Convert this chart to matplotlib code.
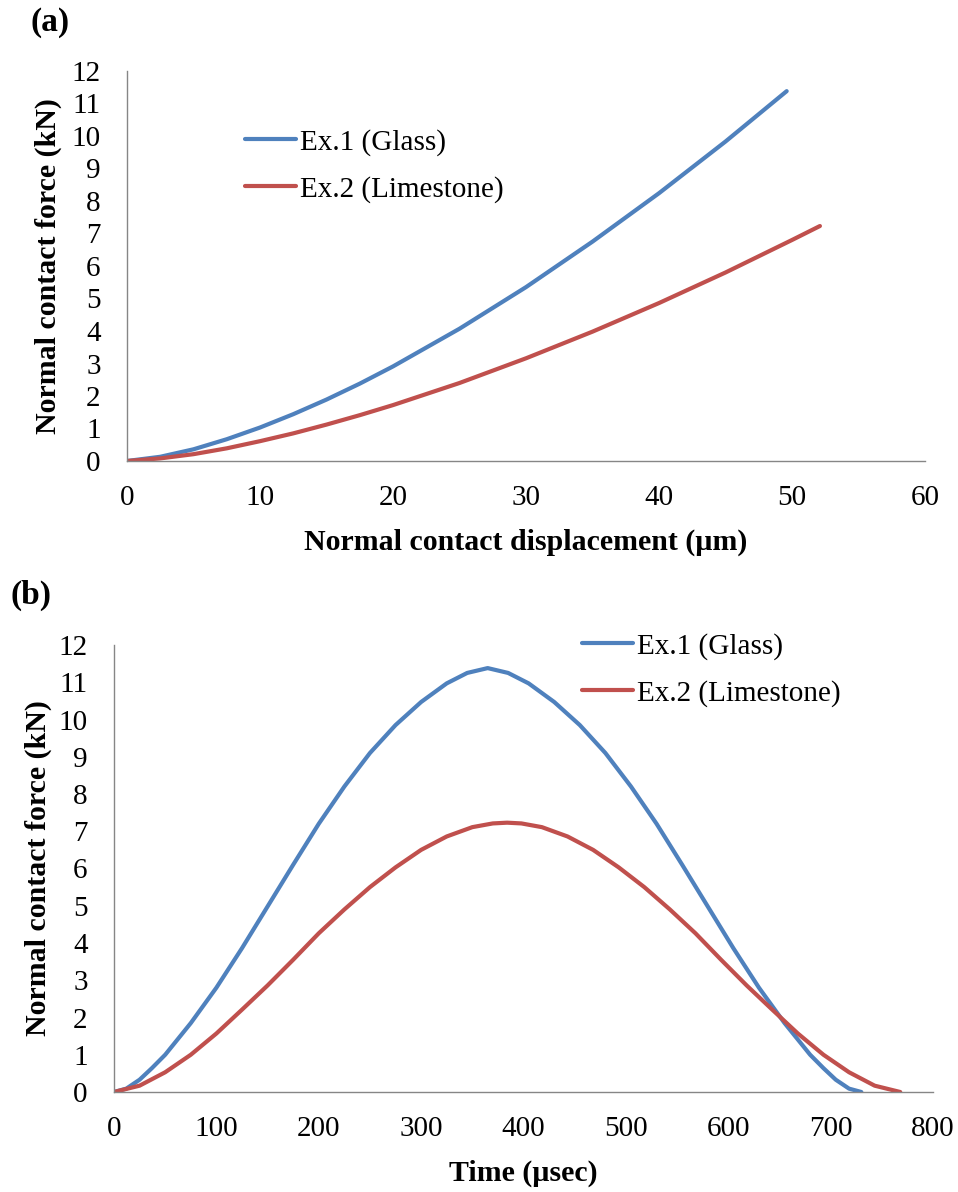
import numpy as np
import matplotlib.pyplot as plt

# (a) force vs displacement
disp_glass = [0, 2.5, 5, 7.5, 10, 12.5, 15, 17.5, 20, 25, 30, 35, 40, 45, 49.6]
force_glass = [0, 0.13, 0.36, 0.67, 1.03, 1.44, 1.89, 2.38, 2.91, 4.07, 5.35, 6.75, 8.24, 9.83, 11.38]
disp_lime = [0, 2.5, 5, 7.5, 10, 12.5, 15, 17.5, 20, 25, 30, 35, 40, 45, 50, 52.1]
force_lime = [0, 0.08, 0.21, 0.39, 0.61, 0.85, 1.12, 1.41, 1.72, 2.40, 3.16, 3.98, 4.86, 5.80, 6.80, 7.23]

# (b) force vs time
time_glass = [0, 12, 25, 37, 50, 75, 100, 125, 150, 175, 200, 225, 250, 275, 300, 325, 345, 365,
              385, 405, 430, 455, 480, 505, 530, 555, 580, 605, 630, 655, 680, 693, 705, 718, 730]
ft_glass = [0, 0.09, 0.33, 0.64, 1.0, 1.85, 2.8, 3.86, 4.98, 6.1, 7.2, 8.2, 9.1, 9.85, 10.47, 10.97, 11.25, 11.38,
            11.25, 10.97, 10.47, 9.85, 9.1, 8.2, 7.2, 6.1, 4.98, 3.86, 2.8, 1.85, 1.0, 0.64, 0.33, 0.09, 0]
time_lime = [0, 25, 50, 75, 100, 125, 150, 175, 200, 225, 250, 275, 300, 325, 350, 370, 384,
             398, 418, 443, 468, 493, 518, 543, 568, 593, 618, 643, 668, 693, 718, 743, 768]
ft_lime = [0, 0.17, 0.53, 1.0, 1.57, 2.21, 2.86, 3.55, 4.26, 4.9, 5.5, 6.03, 6.5, 6.86, 7.11, 7.21, 7.23,
           7.21, 7.11, 6.86, 6.5, 6.03, 5.5, 4.9, 4.26, 3.55, 2.86, 2.21, 1.57, 1.0, 0.53, 0.17, 0]

labels = ['Ex.1 (Glass)', 'Ex.2 (Limestone)']
blue = '#4F81BD'
red = '#C0504D'

plt.rcParams['font.family'] = ['Liberation Serif', 'DejaVu Serif']

fig = plt.figure(figsize=(9.58, 11.92), dpi=100)
W, H = 958, 1192
fs = 21

def make_ax(x0, x1, ytop, ybot):
    ax = fig.add_axes([x0 / W, 1 - ybot / H, (x1 - x0) / W, (ybot - ytop) / H])
    for s in ['top', 'right']:
        ax.spines[s].set_visible(False)
    for s in ['left', 'bottom']:
        ax.spines[s].set_color('#868686')
        ax.spines[s].set_linewidth(1.0)
    ax.tick_params(length=0, labelsize=fs)
    ax.tick_params(axis='y', pad=19)
    ax.tick_params(axis='x', pad=17)
    ax.set_ylim(0, 12)
    ax.set_yticks(range(0, 13))
    return ax

leg_kw = dict(frameon=False, fontsize=fs, handlelength=1.75, handletextpad=0.15,
              labelspacing=0.68, borderpad=0, borderaxespad=0, loc='upper left',
              bbox_transform=fig.transFigure)

# panel (a)
ax1 = make_ax(127, 925, 71, 461)
ax1.plot(disp_glass, force_glass, color=blue, lw=3, label=labels[0], solid_capstyle='round')
ax1.plot(disp_lime, force_lime, color=red, lw=3, label=labels[1], solid_capstyle='round')
ax1.set_xlim(0, 60)
ax1.set_xticks(range(0, 61, 10))
ax1.set_xlabel('Normal contact displacement (µm)', fontsize=21.5, fontweight='bold', labelpad=13)
ax1.set_ylabel('Normal contact force (kN)', fontsize=21.5, fontweight='bold', labelpad=7)
ax1.legend(bbox_to_anchor=(245 / W, 1 - 129 / H), **leg_kw)

# panel (b)
ax2 = make_ax(114, 933, 645, 1092)
ax2.plot(time_glass, ft_glass, color=blue, lw=3, label=labels[0], solid_capstyle='round')
ax2.plot(time_lime, ft_lime, color=red, lw=3, label=labels[1], solid_capstyle='round')
ax2.set_xlim(0, 800)
ax2.set_xticks(range(0, 801, 100))
ax2.set_xlabel('Time (µsec)', fontsize=21.5, fontweight='bold', labelpad=13)
ax2.set_ylabel('Normal contact force (kN)', fontsize=21.5, fontweight='bold', labelpad=5)
ax2.legend(bbox_to_anchor=(582 / W, 1 - 633 / H), **leg_kw)

fig.text(30 / W, 1 - 22 / H, '(a)', fontsize=24, fontweight='bold', va='center', ha='left')
fig.text(10 / W, 1 - 595 / H, '(b)', fontsize=24, fontweight='bold', va='center', ha='left')

fig.savefig('out.png', dpi=100, facecolor='white')
